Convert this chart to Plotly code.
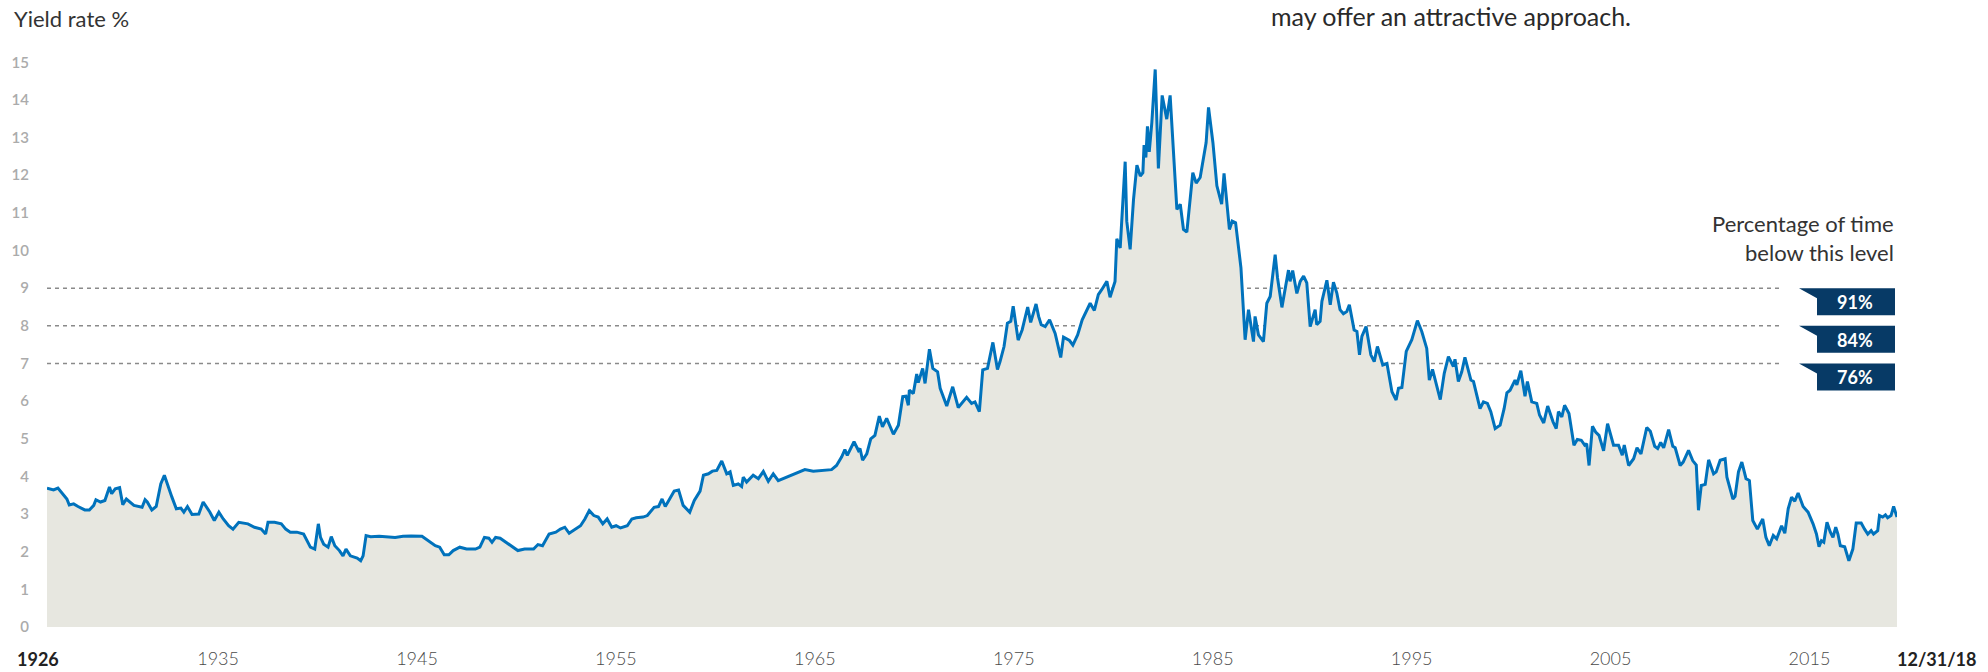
import plotly.graph_objects as go

# ---------------- data ----------------
year = [
    1926.00, 1926.33, 1926.55, 1926.78, 1927.00, 1927.12, 1927.34, 1927.56, 1927.90, 1928.13,
    1928.35, 1928.46, 1928.69, 1928.91, 1929.14, 1929.25, 1929.43, 1929.65, 1929.81, 1929.99,
    1930.15, 1930.37, 1930.78, 1930.93, 1931.04, 1931.27, 1931.49, 1931.72, 1931.90, 1932.12,
    1932.28, 1932.50, 1932.73, 1932.88, 1933.06, 1933.29, 1933.63, 1933.85, 1934.19, 1934.41,
    1934.64, 1934.86, 1935.13, 1935.35, 1935.64, 1936.10, 1936.43, 1936.77, 1936.99, 1937.11,
    1937.44, 1937.78, 1938.00, 1938.23, 1938.56, 1938.90, 1939.24, 1939.46, 1939.64, 1939.75,
    1939.91, 1940.13, 1940.29, 1940.47, 1940.70, 1940.88, 1941.03, 1941.25, 1941.59, 1941.77,
    1941.89, 1942.04, 1942.27, 1942.70, 1943.10, 1943.50, 1943.90, 1944.30, 1944.85, 1945.30,
    1945.52, 1945.74, 1945.97, 1946.20, 1946.42, 1946.75, 1947.09, 1947.54, 1947.76, 1947.99,
    1948.21, 1948.37, 1948.55, 1948.78, 1949.22, 1949.45, 1949.67, 1950.01, 1950.46, 1950.68,
    1950.91, 1951.24, 1951.58, 1951.81, 1952.03, 1952.25, 1952.59, 1952.82, 1953.04, 1953.26,
    1953.49, 1953.71, 1953.94, 1954.16, 1954.39, 1954.61, 1954.83, 1955.17, 1955.40, 1955.62,
    1955.96, 1956.18, 1956.52, 1956.74, 1956.92, 1957.08, 1957.30, 1957.53, 1957.75, 1957.98,
    1958.31, 1958.54, 1958.83, 1959.00, 1959.25, 1959.45, 1959.67, 1959.75, 1959.92, 1960.17,
    1960.34, 1960.50, 1960.75, 1960.92, 1961.00, 1961.17, 1961.50, 1961.76, 1962.01, 1962.26,
    1962.51, 1962.76, 1963.18, 1963.68, 1964.10, 1964.52, 1965.44, 1965.69, 1965.95, 1966.11,
    1966.23, 1966.57, 1966.79, 1966.87, 1967.00, 1967.21, 1967.41, 1967.62, 1967.84, 1968.00,
    1968.21, 1968.55, 1968.80, 1969.02, 1969.18, 1969.30, 1969.35, 1969.55, 1969.72, 1969.80,
    1970.02, 1970.14, 1970.36, 1970.53, 1970.77, 1970.90, 1971.06, 1971.23, 1971.53, 1971.81,
    1972.23, 1972.48, 1972.65, 1972.87, 1973.04, 1973.28, 1973.55, 1973.78, 1973.91, 1974.11,
    1974.28, 1974.45, 1974.57, 1974.82, 1975.02, 1975.30, 1975.45, 1975.72, 1975.85, 1975.98,
    1976.18, 1976.40, 1976.68, 1976.96, 1977.10, 1977.40, 1977.57, 1977.81, 1978.04, 1978.44,
    1978.65, 1978.85, 1979.02, 1979.28, 1979.44, 1979.69, 1979.78, 1979.95, 1980.20, 1980.28,
    1980.45, 1980.62, 1980.79, 1980.96, 1981.09, 1981.15, 1981.24, 1981.32, 1981.41, 1981.54,
    1981.71, 1981.87, 1982.06, 1982.29, 1982.46, 1982.80, 1982.97, 1983.13, 1983.30, 1983.43,
    1983.60, 1983.77, 1983.97, 1984.27, 1984.39, 1984.61, 1984.81, 1985.05, 1985.17, 1985.44,
    1985.58, 1985.75, 1986.02, 1986.23, 1986.40, 1986.65, 1986.73, 1986.90, 1987.15, 1987.32,
    1987.49, 1987.74, 1987.86, 1988.08, 1988.41, 1988.49, 1988.62, 1988.83, 1989.00, 1989.17,
    1989.33, 1989.50, 1989.75, 1989.83, 1990.00, 1990.09, 1990.34, 1990.51, 1990.67, 1990.84,
    1991.00, 1991.17, 1991.34, 1991.47, 1991.71, 1991.85, 1991.98, 1992.10, 1992.31, 1992.55,
    1992.72, 1992.88, 1993.15, 1993.36, 1993.61, 1993.82, 1993.94, 1994.11, 1994.33, 1994.61,
    1994.89, 1995.11, 1995.36, 1995.49, 1995.65, 1996.04, 1996.24, 1996.45, 1996.70, 1996.78,
    1996.95, 1997.12, 1997.28, 1997.58, 1997.71, 1998.04, 1998.21, 1998.41, 1998.58, 1998.80,
    1999.05, 1999.25, 1999.39, 1999.55, 1999.80, 1999.89, 2000.09, 2000.30, 2000.42, 2000.64,
    2000.89, 2001.03, 2001.24, 2001.44, 2001.71, 2001.87, 2001.98, 2002.15, 2002.29, 2002.51,
    2002.76, 2002.93, 2003.13, 2003.30, 2003.40, 2003.52, 2003.69, 2003.85, 2004.02, 2004.25,
    2004.45, 2004.75, 2005.00, 2005.19, 2005.29, 2005.51, 2005.76, 2005.93, 2006.13, 2006.42,
    2006.60, 2006.82, 2006.97, 2007.12, 2007.27, 2007.52, 2007.73, 2007.85, 2007.97, 2008.10,
    2008.25, 2008.52, 2008.73, 2008.91, 2009.02, 2009.16, 2009.36, 2009.53, 2009.78, 2009.91,
    2010.11, 2010.36, 2010.45, 2010.61, 2010.75, 2010.86, 2011.03, 2011.20, 2011.41, 2011.58,
    2011.75, 2011.98, 2012.25, 2012.41, 2012.58, 2012.78, 2012.95, 2013.20, 2013.36, 2013.53,
    2013.70, 2013.86, 2014.03, 2014.28, 2014.53, 2014.78, 2014.95, 2015.08, 2015.20, 2015.32,
    2015.48, 2015.65, 2015.78, 2015.92, 2016.03, 2016.15, 2016.37, 2016.58, 2016.78, 2016.95,
    2017.20, 2017.37, 2017.53, 2017.70, 2017.82, 2018.03, 2018.12, 2018.28, 2018.42, 2018.53,
    2018.70, 2018.83, 2019.00,
]
yield_pct = [
    3.69, 3.64, 3.69, 3.54, 3.40, 3.24, 3.27, 3.20, 3.11, 3.11,
    3.23, 3.38, 3.32, 3.36, 3.72, 3.54, 3.67, 3.70, 3.25, 3.40,
    3.32, 3.23, 3.18, 3.38, 3.32, 3.11, 3.20, 3.80, 4.03, 3.67,
    3.45, 3.14, 3.16, 3.05, 3.20, 2.99, 3.00, 3.32, 3.05, 2.83,
    3.05, 2.87, 2.69, 2.60, 2.78, 2.74, 2.65, 2.60, 2.47, 2.78,
    2.78, 2.74, 2.60, 2.52, 2.52, 2.47, 2.12, 2.07, 2.74, 2.38,
    2.20, 2.12, 2.40, 2.16, 2.03, 1.89, 2.07, 1.89, 1.83, 1.76,
    1.89, 2.43, 2.40, 2.41, 2.40, 2.38, 2.41, 2.42, 2.41, 2.25,
    2.16, 2.12, 1.92, 1.92, 2.03, 2.12, 2.07, 2.07, 2.12, 2.38,
    2.36, 2.25, 2.38, 2.36, 2.20, 2.12, 2.03, 2.07, 2.07, 2.19,
    2.16, 2.47, 2.52, 2.60, 2.65, 2.49, 2.60, 2.69, 2.87, 3.09,
    2.96, 2.92, 2.74, 2.87, 2.65, 2.69, 2.63, 2.69, 2.87, 2.90,
    2.92, 2.96, 3.18, 3.20, 3.40, 3.20, 3.40, 3.61, 3.64, 3.23,
    3.05, 3.36, 3.61, 4.03, 4.07, 4.14, 4.16, 4.25, 4.41, 4.07,
    4.12, 3.76, 3.80, 3.73, 3.98, 3.85, 4.03, 3.94, 4.13, 3.87,
    4.07, 3.89, 3.98, 4.07, 4.18, 4.14, 4.18, 4.29, 4.52, 4.71,
    4.56, 4.92, 4.69, 4.74, 4.43, 4.60, 5.00, 5.09, 5.60, 5.32,
    5.54, 5.12, 5.36, 6.12, 6.13, 5.89, 6.29, 6.20, 6.72, 6.49,
    6.87, 6.47, 7.38, 6.87, 6.78, 6.34, 6.12, 5.87, 6.38, 5.83,
    6.10, 5.94, 5.98, 5.72, 6.83, 6.87, 7.56, 6.84, 7.05, 7.45,
    8.07, 8.12, 8.52, 7.62, 7.89, 8.50, 8.09, 8.58, 8.25, 8.03,
    7.98, 8.16, 7.80, 7.16, 7.70, 7.61, 7.49, 7.76, 8.16, 8.60,
    8.41, 8.83, 8.96, 9.18, 8.76, 9.18, 10.31, 10.07, 12.36, 10.78,
    10.03, 11.36, 12.27, 11.98, 12.07, 12.80, 12.47, 13.30, 12.62, 13.40,
    14.81, 12.18, 14.12, 13.49, 14.12, 11.09, 11.23, 10.56, 10.49, 11.18,
    12.07, 11.79, 11.94, 12.87, 13.80, 12.87, 11.72, 11.23, 12.05, 10.56,
    10.78, 10.74, 9.54, 7.63, 8.43, 7.58, 8.25, 7.76, 7.58, 8.60,
    8.78, 9.89, 9.27, 8.49, 9.48, 9.18, 9.47, 8.86, 9.18, 9.32,
    9.14, 7.98, 8.43, 8.03, 8.12, 8.65, 9.21, 8.56, 9.16, 8.87,
    8.43, 8.32, 8.38, 8.56, 7.89, 7.85, 7.23, 7.72, 7.98, 7.23,
    7.05, 7.45, 6.96, 7.00, 6.25, 6.03, 6.34, 6.36, 7.32, 7.63,
    8.14, 7.85, 7.40, 6.56, 6.84, 6.04, 6.74, 7.18, 6.92, 7.11,
    6.52, 6.78, 7.16, 6.56, 6.52, 5.80, 5.98, 5.94, 5.72, 5.27,
    5.36, 5.80, 6.22, 6.29, 6.56, 6.43, 6.81, 6.13, 6.52, 5.98,
    5.94, 5.63, 5.42, 5.87, 5.45, 5.27, 5.72, 5.58, 5.89, 5.67,
    4.83, 4.98, 4.96, 4.83, 4.87, 4.29, 5.33, 5.18, 5.09, 4.68,
    5.40, 4.83, 4.83, 4.56, 4.83, 4.29, 4.47, 4.76, 4.60, 5.30,
    5.20, 4.80, 4.74, 4.90, 4.76, 5.24, 4.80, 4.76, 4.52, 4.29,
    4.38, 4.69, 4.42, 4.30, 3.10, 3.76, 3.79, 4.44, 4.07, 4.12,
    4.43, 4.47, 3.98, 3.67, 3.40, 3.47, 4.12, 4.38, 3.94, 3.89,
    2.83, 2.60, 2.87, 2.38, 2.16, 2.43, 2.34, 2.69, 2.49, 3.14,
    3.45, 3.34, 3.56, 3.20, 3.05, 2.74, 2.47, 2.13, 2.29, 2.25,
    2.78, 2.52, 2.38, 2.65, 2.47, 2.16, 2.13, 1.76, 2.07, 2.76,
    2.76, 2.60, 2.47, 2.56, 2.47, 2.56, 2.96, 2.92, 2.98, 2.90,
    2.96, 3.20, 2.92,
]

y_ticks = list(range(0, 16))
x_tick_years = [1935, 1945, 1955, 1965, 1975, 1985, 1995, 2005, 2015]
start_label = "1926"
end_label = "12/31/18"

levels = [9, 8, 7]
level_pct = ["91%", "84%", "76%"]

# ---------------- styling / layout geometry ----------------
W, H = 1988, 672
L, R, T, B = 47, 1897, 51, 627          # plot-area pixel box
X_MIN, X_MAX = 1926.0, 2019.0
Y_MAX = 15.3

LINE_COLOR = "#0072bc"
FILL_COLOR = "#e7e7e0"
NAVY = "#073a66"
TEXT = "#333333"
FONT = "Lato, Noto Sans, sans-serif"


def px_x(px):
    return (px - L) / (R - L)


def px_y(py):
    return (B - py) / (B - T)


fig = go.Figure()
fig.add_trace(go.Scatter(
    x=year, y=yield_pct, mode="lines",
    line=dict(color=LINE_COLOR, width=3),
    fill="tozeroy", fillcolor=FILL_COLOR,
    hoverinfo="skip", showlegend=False,
))

shapes = []
annotations = []
dash_end = X_MIN + (1782 - L) / (R - L) * (X_MAX - X_MIN)
for lv, pct in zip(levels, level_pct):
    shapes.append(dict(
        type="line", xref="x", yref="y", x0=X_MIN, x1=dash_end, y0=lv, y1=lv,
        line=dict(color="#8a8a8a", width=1.5, dash="4px,4px"), layer="below",
    ))
    shapes.append(dict(
        type="path", xref="x", yref="y", xsizemode="pixel", ysizemode="pixel",
        xanchor=X_MAX, yanchor=lv,
        path="M -98,0 L -2,0 L -2,-27 L -80,-27 L -80,-10 Z",
        fillcolor=NAVY, line=dict(width=0), layer="above",
    ))
    annotations.append(dict(
        xref="x", yref="y", x=X_MAX, y=lv, xshift=-42, yshift=-14,
        text=f"<b>{pct}</b>", showarrow=False, xanchor="center", yanchor="middle",
        font=dict(family=FONT, size=18, color="white"),
    ))

annotations += [
    dict(xref="paper", yref="paper", x=px_x(12), y=px_y(19), text="Yield rate %",
         showarrow=False, xanchor="left", yanchor="middle",
         font=dict(family=FONT, size=22, color=TEXT)),
    dict(xref="paper", yref="paper", x=px_x(1269), y=px_y(16),
         text="may offer an attractive approach.",
         showarrow=False, xanchor="left", yanchor="middle",
         font=dict(family=FONT, size=25, color="#2a2a2a")),
    dict(xref="paper", yref="paper", x=px_x(1896), y=px_y(223), text="Percentage of time",
         showarrow=False, xanchor="right", yanchor="middle",
         font=dict(family=FONT, size=22, color=TEXT)),
    dict(xref="paper", yref="paper", x=px_x(1896), y=px_y(252), text="below this level",
         showarrow=False, xanchor="right", yanchor="middle",
         font=dict(family=FONT, size=22, color=TEXT)),
    dict(xref="paper", yref="paper", x=px_x(38), y=px_y(659), text=f"<b>{start_label}</b>",
         showarrow=False, xanchor="center", yanchor="middle",
         font=dict(family=FONT, size=18, color="#222222")),
    dict(xref="paper", yref="paper", x=px_x(1895), y=px_y(659), text=f"<b>{end_label}</b>",
         showarrow=False, xanchor="left", yanchor="middle",
         font=dict(family=FONT, size=18, color="#222222")),
]

fig.update_layout(
    width=W, height=H, autosize=False,
    margin=dict(l=L, r=W - R, t=T, b=H - B, pad=0, autoexpand=False),
    paper_bgcolor="white", plot_bgcolor="white",
    showlegend=False,
    shapes=shapes, annotations=annotations,
    xaxis=dict(
        range=[X_MIN, X_MAX], showgrid=False, zeroline=False, showline=False,
        tickvals=[yr - 0.4 for yr in x_tick_years], ticktext=[str(v) for v in x_tick_years],
        ticks="", ticklabelstandoff=19, automargin=False,
        tickfont=dict(family=FONT, size=18, color="#4a4a4a", weight=300),
        fixedrange=True,
    ),
    yaxis=dict(
        range=[0, Y_MAX], showgrid=False, zeroline=False, showline=False,
        tickvals=y_ticks, ticktext=[str(v) for v in y_ticks],
        ticks="", ticklabelstandoff=17, automargin=False,
        tickfont=dict(family=FONT, size=15, color="#ababab", weight=600),
        fixedrange=True,
    ),
)

post = (
    "document.documentElement.style.margin='0';"
    "document.body.style.margin='0';"
    "document.documentElement.style.overflow='hidden';"
    "document.body.style.overflow='hidden';"
    "var gd=document.getElementById('{plot_id}');"
    "Plotly.relayout(gd,{width:%d,height:%d});" % (W, H)
)
fig.write_html("out.html", config={"displayModeBar": False, "responsive": False},
               post_script=post)
